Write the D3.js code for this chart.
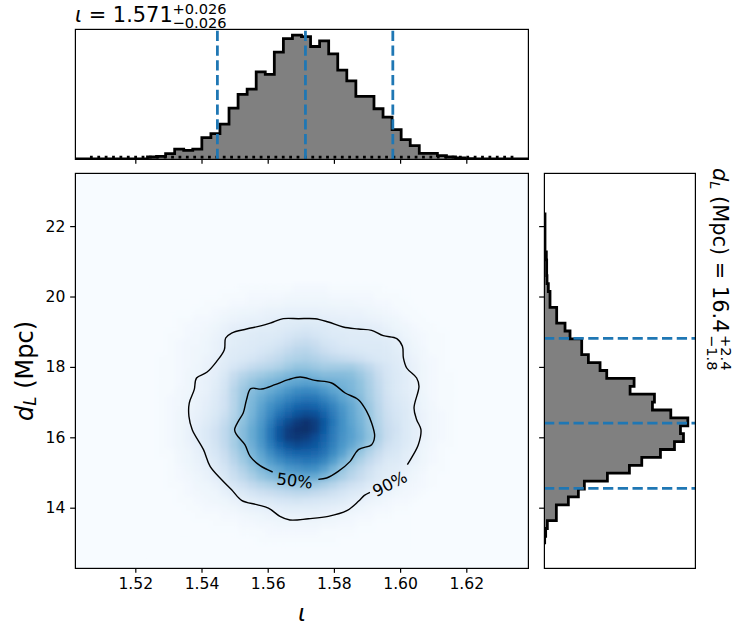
<!DOCTYPE html>
<html>
<head>
<meta charset="UTF-8">
<title></title>
<style>
  * {padding:0; margin:0;}
  body {background:#fff;}
  svg {display:block;}
  text {font-family:"DejaVu Sans"; fill:#000;}
  .tick {font-size:15.6px;}
  .it {font-style:italic;}
</style>
</head>
<body>
<svg id="chart" width="743" height="635"></svg>
<script src="https://d3js.org/d3.v7.min.js"></script>
<script>
// axis limits and ticks
var iotaLimits = [1.50178, 1.63864];
var dLLimits = [12.287, 23.509];
var iotaTicks = [1.52, 1.54, 1.56, 1.58, 1.60, 1.62];
var dLTicks = [14, 16, 18, 20, 22];

// marginal histograms, 50 bins across the limits (dL from low to high)
var iotaCounts = [0,0,0,0,0,0,0,0,6,8,16,30,26,30,64,76,105,153,194,210,262,254,321,362,372,368,338,355,316,267,235,188,188,151,126,88,58,40,17,17,10,6,3,1,0,0,0,0,0,0];
var dLCounts = [0,0,0,2,5,10,37,37,73,103,121,190,256,293,349,391,418,409,431,380,325,331,258,270,188,168,133,113,113,78,63,38,38,18,18,13,9,8,8,7,3,3,3,3,3,0,0,0,0,0];

// quantiles drawn as dashed lines
var iotaQuantiles = [1.5448, 1.5714, 1.5978];
var dLQuantiles = [14.551, 16.4, 18.81];

// flat prior drawn dotted in the top panel
var priorIota = [1.5063, 1.6351];
var priorCount = [5.5, 5.5];

// density grid (percent of colormap), cols 8..42 rows 14..47 of a 50x50 grid, rows top to bottom
var firstCol = 8, firstRow = 14, gridBins = 50;
var density = [
[1,1,1,1,1,1,1,1,1,1,2,2,2,2,2,2,3,3,3,3,2,2,2,2,2,2,1,1,1,1,1,1,1,1,1],
[1,1,1,1,1,1,1,1,2,2,2,3,3,3,3,4,4,4,4,4,3,3,3,3,3,2,2,2,1,1,1,1,1,1,1],
[1,1,1,1,1,1,2,2,2,3,3,4,4,5,5,6,6,6,6,6,5,5,5,4,4,3,3,2,2,1,1,1,1,1,1],
[1,1,1,1,1,2,2,3,4,5,6,6,7,8,8,9,9,9,9,8,8,7,7,7,6,5,4,3,2,2,1,1,1,1,1],
[1,1,1,2,2,3,3,4,6,7,8,9,9,10,11,12,12,12,12,11,10,10,9,9,8,7,6,5,3,2,2,1,1,1,1],
[1,1,1,2,3,3,4,6,8,10,11,11,12,12,13,14,15,16,15,14,13,12,12,12,11,10,8,6,5,3,2,2,1,1,1],
[1,1,2,2,3,4,5,7,9,12,12,13,14,14,15,17,19,20,18,16,14,14,13,13,13,12,11,9,6,4,3,2,2,1,1],
[1,1,2,3,4,4,6,8,10,12,13,14,15,16,18,21,24,25,23,19,17,15,14,14,14,14,13,11,8,5,3,2,2,1,1],
[1,1,2,3,4,5,6,8,11,13,14,15,17,19,22,26,29,30,27,23,20,18,17,16,15,15,14,12,9,6,4,2,2,1,1],
[1,2,2,3,4,5,7,9,12,14,16,18,21,24,27,31,33,34,32,29,27,25,23,21,18,16,15,13,10,7,4,3,2,1,1],
[1,2,2,3,4,6,8,10,13,17,21,25,28,30,33,37,40,40,38,36,36,36,36,32,27,21,17,14,11,8,5,3,2,1,1],
[1,2,2,3,5,6,8,11,16,24,30,34,37,40,43,46,48,48,46,44,44,44,43,38,32,24,18,15,12,8,5,3,2,2,1],
[1,2,2,3,5,7,9,12,18,27,35,40,44,47,50,53,55,56,55,52,50,48,46,41,34,26,19,15,12,8,5,3,2,2,1],
[1,2,2,4,5,7,9,13,19,30,38,44,48,52,56,61,65,66,65,60,55,51,47,42,35,27,19,15,12,9,5,3,2,2,1],
[1,2,3,4,6,8,10,14,20,30,39,46,52,58,63,68,72,74,73,68,62,55,50,44,36,28,20,16,13,9,6,3,2,2,1],
[1,2,3,4,6,8,11,15,20,30,40,47,55,63,69,75,80,82,80,75,68,60,53,46,38,29,21,17,14,10,6,4,2,2,1],
[1,2,3,5,7,9,12,16,22,31,40,48,57,66,75,82,87,90,88,81,71,62,54,47,39,30,22,18,15,10,7,4,3,2,1],
[1,2,3,5,7,10,13,18,25,33,42,50,59,70,82,90,96,99,95,85,73,63,55,48,40,31,23,19,15,11,7,4,3,2,1],
[1,2,3,5,8,11,15,20,27,35,44,52,61,73,86,95,99,100,95,84,72,63,56,49,41,32,24,20,15,11,7,4,3,2,1],
[1,2,3,5,8,11,15,20,27,35,44,52,61,73,86,95,97,95,89,81,71,62,56,50,42,33,24,19,15,11,7,4,3,2,1],
[1,2,3,5,7,10,14,19,26,35,43,50,59,70,80,87,90,88,85,78,69,60,53,46,37,29,21,18,14,10,6,4,2,2,1],
[1,2,2,4,6,9,13,17,23,32,40,47,55,64,72,78,80,80,79,74,65,56,46,39,31,24,18,16,12,9,5,3,2,1,1],
[1,1,2,4,6,8,11,15,21,29,37,44,51,58,64,69,71,73,72,67,58,48,40,33,26,20,15,14,11,8,5,3,2,1,1],
[1,1,2,3,5,7,9,13,18,25,32,39,45,51,55,60,62,64,63,57,48,40,33,27,21,16,13,12,9,6,4,2,2,1,1],
[1,1,2,3,4,6,8,11,16,22,28,34,40,44,48,51,52,53,52,47,41,35,29,24,19,15,12,10,7,5,3,2,1,1,1],
[1,1,2,2,3,5,6,8,12,17,21,26,30,33,36,38,40,40,38,34,30,25,21,18,14,11,9,8,5,4,3,2,1,1,1],
[1,1,1,2,3,4,5,6,9,12,15,18,21,23,25,27,28,28,26,24,21,18,15,13,10,8,7,5,4,3,2,1,1,1,1],
[1,1,1,2,2,3,4,5,6,8,10,12,14,15,17,18,19,18,17,16,15,13,11,9,7,6,4,3,3,2,1,1,1,1,1],
[1,1,1,1,2,2,3,3,4,5,7,8,9,10,11,12,12,12,12,11,10,9,7,6,4,3,3,2,2,1,1,1,1,1,1],
[1,1,1,1,1,2,2,2,3,3,4,5,6,7,7,8,8,8,8,7,6,5,4,3,3,2,2,1,1,1,1,1,1,1,1],
[1,1,1,1,1,1,1,2,2,2,3,3,4,4,5,5,5,5,5,4,4,3,3,2,2,1,1,1,1,1,1,1,1,1,1],
[1,1,1,1,1,1,1,1,1,1,2,2,2,3,3,3,3,3,3,2,2,2,2,1,1,1,1,1,1,1,1,1,1,1,1],
[1,1,1,1,1,1,1,1,1,1,1,1,2,2,2,2,2,2,2,2,2,1,1,1,1,1,1,1,1,1,1,1,1,1,1],
[1,1,1,1,1,1,1,1,1,1,1,1,1,1,1,1,1,1,1,1,1,1,1,1,1,1,1,1,1,1,1,1,1,1,1]
];

// credible contours, split where the inline label sits
var c90Iota = [1.6022,1.6037,1.6055,1.6063,1.6050,1.6042,1.6057,1.6050,1.6020,1.6010,1.6007,1.5990,1.5949,1.5914,1.5874,1.5828,1.5783,1.5743,1.5693,1.5647,1.5617,1.5582,1.5536,1.5491,1.5473,1.5469,1.5446,1.5416,1.5385,1.5378,1.5363,1.5362,1.5372,1.5406,1.5426,1.5461,1.5491,1.5521,1.5567,1.5602,1.5637,1.5667,1.5723,1.5783,1.5839,1.5874,1.5892,1.5909];
var c90DL = [15.222,15.459,15.791,16.217,16.501,16.832,17.448,17.685,17.969,18.253,18.584,18.802,18.887,19.039,19.077,19.134,19.276,19.370,19.370,19.370,19.276,19.171,19.077,18.963,18.821,18.490,18.158,17.846,17.685,17.353,16.974,16.596,16.217,15.649,15.175,14.796,14.512,14.209,14.086,13.991,13.755,13.651,13.688,13.755,13.916,14.181,14.351,14.437];
var c50Iota = [1.5615,1.5577,1.5547,1.5531,1.5506,1.5500,1.5511,1.5526,1.5536,1.5549,1.5582,1.5622,1.5662,1.5698,1.5743,1.5793,1.5834,1.5874,1.5899,1.5914,1.5923,1.5914,1.5874,1.5849,1.5813,1.5778,1.5753];
var c50DL = [15.014,15.194,15.459,15.791,16.075,16.217,16.454,16.690,17.069,17.382,17.372,17.495,17.637,17.713,17.618,17.543,17.259,17.069,16.738,16.406,16.028,15.791,15.649,15.317,15.033,14.844,14.806];

var svg = d3.select("#chart");
var blue = "#1f77b4";

// panel boxes
var mainBox = {l:75, r:528, t:173, b:568};
var topBox = {l:75, r:528, t:29, b:159};
var sideBox = {l:544, r:695, t:173, b:568};

var x = d3.scaleLinear().domain(iotaLimits).range([mainBox.l, mainBox.r]);
var y = d3.scaleLinear().domain(dLLimits).range([mainBox.b, mainBox.t]);
var countY = d3.scaleLinear().domain([0, d3.max(iotaCounts) * 1.05]).range([topBox.b, topBox.t]);
var countX = d3.scaleLinear().domain([0, d3.max(dLCounts) * 1.05]).range([sideBox.l, sideBox.r]);
var color = d3.scaleSequential(d3.interpolateBlues).domain([1, 100]);

var iotaStep = (iotaLimits[1] - iotaLimits[0]) / gridBins;
var dLStep = (dLLimits[1] - dLLimits[0]) / gridBins;

var defs = svg.append("defs");
function clip(id, b) {
  defs.append("clipPath").attr("id", id).append("rect")
    .attr("x", b.l).attr("y", b.t).attr("width", b.r - b.l).attr("height", b.b - b.t);
}
clip("clipMain", mainBox); clip("clipTop", topBox); clip("clipSide", sideBox);
defs.append("filter").attr("id", "soft").attr("filterUnits", "userSpaceOnUse")
  .attr("x", 0).attr("y", 100).attr("width", 600).attr("height", 535)
  .append("feGaussianBlur").attr("stdDeviation", 2.4);

// heatmap
var heat = svg.append("g").attr("clip-path", "url(#clipMain)");
heat.append("rect").attr("x", mainBox.l).attr("y", mainBox.t)
  .attr("width", mainBox.r - mainBox.l).attr("height", mainBox.b - mainBox.t)
  .attr("fill", color(1));
var cells = [];
density.forEach(function(row, r) {
  row.forEach(function(v, c) {
    cells.push({i: c + firstCol, j: r + firstRow, v: v});
  });
});
heat.append("g").attr("filter", "url(#soft)").selectAll("rect").data(cells).enter().append("rect")
  .attr("x", function(d) { return x(iotaLimits[0] + d.i * iotaStep); })
  .attr("y", function(d) { return y(dLLimits[1] - d.j * dLStep); })
  .attr("width", x(iotaLimits[0] + iotaStep) - x(iotaLimits[0]) + 0.5)
  .attr("height", y(dLLimits[1] - dLStep) - y(dLLimits[1]) + 0.5)
  .attr("fill", function(d) { return color(d.v); });

// contours
var contourLine = d3.line()
  .x(function(d) { return x(d[0]); })
  .y(function(d) { return y(d[1]); })
  .curve(d3.curveCatmullRom);
[[c90Iota, c90DL], [c50Iota, c50DL]].forEach(function(c) {
  heat.append("path").attr("d", contourLine(d3.zip(c[0], c[1])))
    .attr("fill", "none").attr("stroke", "#000").attr("stroke-width", 1.39);
});
svg.append("text").attr("transform", "translate(294,486.5) rotate(7)")
  .attr("text-anchor", "middle").style("font-size", "16.4px").text("50%");
svg.append("text").attr("transform", "translate(392.5,489) rotate(-27)")
  .attr("text-anchor", "middle").style("font-size", "16.4px").text("90%");

// top histogram
var topBins = iotaCounts.map(function(v, i) {
  return {a: iotaLimits[0] + i * iotaStep, b: iotaLimits[0] + (i + 1) * iotaStep, v: v};
});
var topG = svg.append("g").attr("clip-path", "url(#clipTop)");
var topStep = [];
topBins.forEach(function(d) { topStep.push([x(d.a), countY(d.v)], [x(d.b), countY(d.v)]); });
topG.append("path").attr("d", d3.area().x(function(d) { return d[0]; }).y0(countY(0)).y1(function(d) { return d[1]; })(topStep))
  .attr("fill", "#808080");
topG.append("path").attr("d", d3.line()(d3.zip(priorIota.map(x), priorCount.map(countY))))
  .attr("fill", "none").attr("stroke", "#000").attr("stroke-width", 2.78).attr("stroke-dasharray", "2.78 4.6");
topG.append("path").attr("d", d3.line()(topStep))
  .attr("fill", "none").attr("stroke", "#000").attr("stroke-width", 2.78);
topG.selectAll("line.q").data(iotaQuantiles).enter().append("line").attr("class", "q")
  .attr("x1", x).attr("x2", x).attr("y1", topBox.b).attr("y2", topBox.t)
  .attr("stroke", blue).attr("stroke-width", 2.78).attr("stroke-dasharray", "10.3 4.45");

// side histogram
var sideG = svg.append("g").attr("clip-path", "url(#clipSide)");
var sideStep = [];
dLCounts.forEach(function(v, i) {
  sideStep.push([countX(v), y(dLLimits[0] + i * dLStep)], [countX(v), y(dLLimits[0] + (i + 1) * dLStep)]);
});
var firstHit = d3.min(dLCounts.map(function(v, i) { return v > 0 ? i : 99; }));
var lastHit = d3.max(dLCounts.map(function(v, i) { return v > 0 ? i : -1; }));
var sideDrawn = sideStep.slice(firstHit * 2, (lastHit + 1) * 2);
sideG.append("path").attr("d", d3.area().y(function(d) { return d[1]; }).x0(countX(0)).x1(function(d) { return d[0]; })(sideDrawn))
  .attr("fill", "#808080");
sideG.append("path").attr("d", d3.line()(sideDrawn))
  .attr("fill", "none").attr("stroke", "#000").attr("stroke-width", 2.78);
sideG.selectAll("line.q").data(dLQuantiles).enter().append("line").attr("class", "q")
  .attr("y1", y).attr("y2", y).attr("x1", sideBox.l).attr("x2", sideBox.r)
  .attr("stroke", blue).attr("stroke-width", 2.78).attr("stroke-dasharray", "10.3 4.45");

// spines
[mainBox, topBox, sideBox].forEach(function(b) {
  svg.append("rect").attr("x", b.l + 0.4).attr("y", b.t + 0.4).attr("width", b.r - b.l).attr("height", b.b - b.t)
    .attr("fill", "none").attr("stroke", "#000").attr("stroke-width", 1.2);
});

// axes
function styleAxis(g) {
  g.selectAll(".domain").remove();
  g.selectAll(".tick line").attr("stroke", "#000").attr("stroke-width", 1.2);
  g.selectAll(".tick text").attr("class", "tick").attr("fill", "#000");
}
svg.append("g").attr("transform", "translate(0," + mainBox.b + ")")
  .call(d3.axisBottom(x).tickValues(iotaTicks).tickFormat(d3.format(".2f")).tickSize(4.86).tickPadding(5.3))
  .call(styleAxis).attr("font-family", null).attr("font-size", null);
svg.append("g").attr("transform", "translate(" + mainBox.l + ",0)")
  .call(d3.axisLeft(y).tickValues(dLTicks).tickSize(4.86).tickPadding(4.8))
  .call(styleAxis).attr("font-family", null).attr("font-size", null);
svg.append("g").attr("transform", "translate(0," + topBox.b + ")")
  .call(d3.axisBottom(x).tickValues(iotaTicks).tickFormat("").tickSize(4.86))
  .call(styleAxis);
svg.append("g").attr("transform", "translate(" + sideBox.l + ",0)")
  .call(d3.axisLeft(y).tickValues(dLTicks).tickFormat("").tickSize(4.86))
  .call(styleAxis);

// axis labels
svg.append("text").attr("x", 302).attr("y", 621).attr("text-anchor", "middle")
  .attr("class", "it").style("font-size", "23.5px").text("ι");
var yl = svg.append("text").attr("transform", "translate(32.5,371) rotate(-90)")
  .attr("text-anchor", "middle").style("font-size", "24px");
yl.append("tspan").attr("class", "it").text("d");
yl.append("tspan").attr("class", "it").attr("dy", 3.5).style("font-size", "16.8px").text("L");
yl.append("tspan").attr("dy", -3.5).text(" (Mpc)");

// title above the top panel
var title = svg.append("text").attr("x", 75).attr("y", 22.3).style("font-size", "20.9px");
title.append("tspan").attr("class", "it").text("ι");
title.append("tspan").text(" = 1.571");
svg.append("text").attr("x", 172.5).attr("y", 14).style("font-size", "14.6px").text("+0.026");
svg.append("text").attr("x", 172.5).attr("y", 28.3).style("font-size", "14.6px").text("−0.026");

// rotated label right of the side panel
var side = svg.append("text").attr("transform", "translate(712.5,168) rotate(90)").style("font-size", "20.9px");
side.append("tspan").attr("class", "it").text("d");
side.append("tspan").attr("class", "it").attr("dy", 3).style("font-size", "14.6px").text("L");
side.append("tspan").attr("dy", -3).text(" (Mpc) = 16.4");
svg.append("text").attr("transform", "translate(721,335) rotate(90)").style("font-size", "14.6px").text("+2.4");
svg.append("text").attr("transform", "translate(706.7,335) rotate(90)").style("font-size", "14.6px").text("−1.8");
</script>
</body>
</html>
